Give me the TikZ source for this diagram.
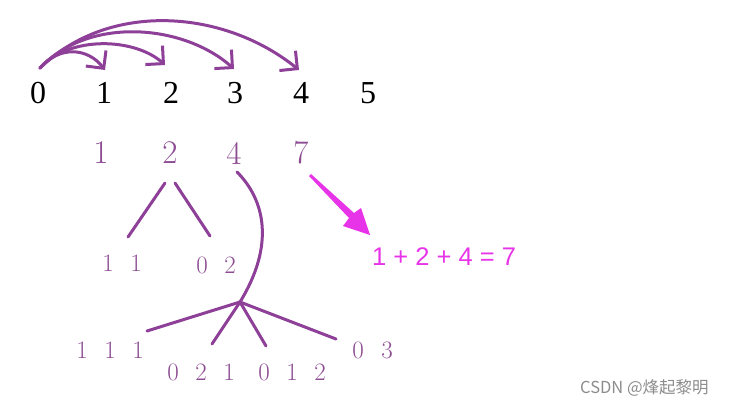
\documentclass[tikz,border=0pt]{standalone}
\usepackage{fontspec}
\usetikzlibrary{arrows.meta}
\newfontfamily\cjkfont{Noto Sans CJK SC}
\newfontfamily\sansfont{Liberation Sans}
\newfontfamily\timesfont{Liberation Serif}
\definecolor{pur}{RGB}{140,76,146}
\definecolor{purline}{RGB}{142,64,152}
\definecolor{mag}{RGB}{232,52,232}
\tikzset{
  big/.style={inner sep=0pt,font=\timesfont\fontsize{32}{32}\selectfont},
  bigp/.style={inner sep=0pt,text=pur,font=\fontsize{33}{33}\selectfont},
  small/.style={inner sep=0pt,text=pur,font=\fontsize{25}{25}\selectfont},
  tl/.style={draw=purline,line width=3pt,line cap=round},
  jump/.style={draw=purline,line width=3pt,line cap=round,-{Straight Barb[scale=1.7]}},
}
\begin{document}
\begin{tikzpicture}[x=1pt,y=-1pt]
\useasboundingbox (0,0) rectangle (731,407);
% top row
\node[big] (t0) at (38,93) {0};
\node[big] (t1) at (104,93) {1};
\node[big] (t2) at (171,93) {2};
\node[big] (t3) at (235,93) {3};
\node[big] (t4) at (301,93) {4};
\node[big] (t5) at (368,93) {5};
% jumps
\coordinate (s) at (40,68);
\coordinate (e1) at (105,70);
\coordinate (e2) at (165,65);
\coordinate (e3) at (234,69);
\coordinate (e4) at (299,70);
\draw[jump] (s) .. controls (110,0) and (225,10) .. (e4);
\draw[jump] (s) .. controls (90,15) and (185,25) .. (e3);
\draw[jump] (s) .. controls (70,35) and (135,38) .. (e2);
\draw[jump] (s) .. controls (60,45) and (88,48) .. (e1);
% purple row
\node[bigp] (p1) at (101,153) {1};
\node[bigp] (p2) at (170,153) {2};
\node[bigp] (p4) at (234,153) {4};
\node[bigp] (p7) at (301,153) {7};
% split of 2
\node[small] (a1) at (108,263) {1};
\node[small] (a2) at (136,263) {1};
\node[small] (b1) at (202,265) {0};
\node[small] (b2) at (230,265) {2};
\coordinate (l1) at (165,183);
\coordinate (l2) at (128,237);
\coordinate (r1) at (175,183);
\coordinate (r2) at (210,236);
\draw[tl] (l1) -- (l2);
\draw[tl] (r1) -- (r2);
% split of 4
\coordinate (f0) at (237,172);
\coordinate (c) at (240,302);
\draw[tl] (f0) .. controls (265,200) and (275,245) .. (c);
\coordinate (c1) at (147,331);
\coordinate (c2) at (212,344);
\coordinate (c3) at (266,346);
\coordinate (c4) at (336,339);
\draw[tl] (c) -- (c1);
\draw[tl] (c) -- (c2);
\draw[tl] (c) -- (c3);
\draw[tl] (c) -- (c4);
\node[small] (q1) at (82,350) {1};
\node[small] (q2) at (110,350) {1};
\node[small] (q3) at (138,350) {1};
\node[small] (m1) at (173,372) {0};
\node[small] (m2) at (201,372) {2};
\node[small] (m3) at (229,372) {1};
\node[small] (m4) at (264,372) {0};
\node[small] (m5) at (292,372) {1};
\node[small] (m6) at (320,372) {2};
\node[small] (n1) at (358,350) {0};
\node[small] (n2) at (387,350) {3};
% magenta arrow
\fill[mag] (311,174) -- (309,176) -- (349,218) -- (343,226) -- (370,235) -- (361,208) -- (354,213) -- cycle;
\node[inner sep=0pt,text=mag,font=\sansfont\fontsize{25.5}{25.5}\selectfont,anchor=west] (sum) at (372,257) {1 + 2 + 4 = 7};
% watermark
\node[inner sep=0pt,text=black!45,font=\cjkfont\fontsize{16.5}{16.5}\selectfont,anchor=west] (wm) at (580,388) {CSDN @烽起黎明};
\end{tikzpicture}
\end{document}
